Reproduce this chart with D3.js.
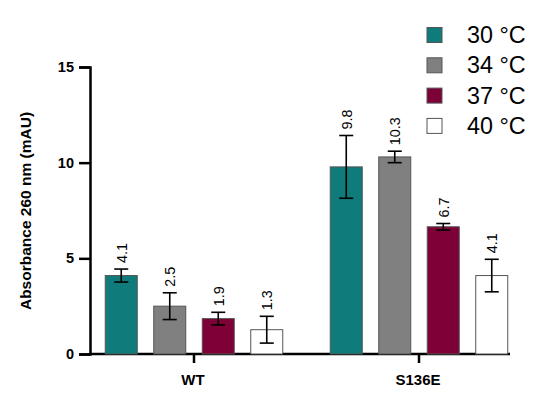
<!DOCTYPE html>
<html>
<head>
<meta charset="utf-8">
<script src="https://cdn.jsdelivr.net/npm/d3@7"></script>
<style>
  body { margin: 0; background: #fff; }
  text { font-family: "Liberation Sans", Arial, sans-serif; }
</style>
</head>
<body>
<svg id="chart" width="550" height="398"></svg>
<script>
// data
const groups = ["WT", "S136E"];
const temps = ["30 °C", "34 °C", "37 °C", "40 °C"];
const colors = ["#0f7b7b", "#808080", "#7d0036", "#ffffff"];
const means = [
  [4.1, 2.5, 1.85, 1.27],
  [9.78, 10.3, 6.65, 4.1]
];
const errs = [
  [0.34, 0.7, 0.33, 0.7],
  [1.64, 0.3, 0.17, 0.85]
];
const labels = [
  ["4.1", "2.5", "1.9", "1.3"],
  ["9.8", "10.3", "6.7", "4.1"]
];
const yTicks = [0, 5, 10, 15];

const svg = d3.select("#chart");

let y = d3.scaleLinear().domain([0, 15]).range([354, 67]);
let x0 = d3.scalePoint().domain(groups).range([194, 419]);
let x1 = d3.scaleBand().domain(temps).range([-97, 97]).paddingInner(0.34).paddingOuter(0.17);

// axes
let yAxis = svg.append("g")
    .attr("transform", "translate(90,0)")
    .call(d3.axisLeft(y).tickValues(yTicks).tickSize(11).tickPadding(5));
yAxis.select(".domain").attr("stroke-width", 2.5).attr("stroke", "#000");
yAxis.selectAll(".tick line").attr("stroke-width", 2.5);
yAxis.selectAll(".tick text").attr("font-size", 14.5).attr("font-weight", "bold").attr("fill", "#000");

svg.append("line")
    .attr("x1", 89).attr("x2", 510)
    .attr("y1", y(0)).attr("y2", y(0))
    .attr("stroke", "#000").attr("stroke-width", 2.5);

groups.forEach((g, gi) => {
  let cx = x0(g);
  svg.append("line")
      .attr("x1", cx).attr("x2", cx)
      .attr("y1", y(0)).attr("y2", y(0) + 9)
      .attr("stroke", "#000").attr("stroke-width", 2.5);
  svg.append("text")
      .attr("x", cx - 1).attr("y", 384.5)
      .attr("text-anchor", "middle")
      .attr("font-size", 15).attr("font-weight", "bold")
      .text(g);

  temps.forEach((t, ti) => {
    let bx = cx + x1(t);
    let bw = x1.bandwidth();
    let v = means[gi][ti];
    let e = errs[gi][ti];
    svg.append("rect")
        .attr("x", bx).attr("y", y(v))
        .attr("width", bw).attr("height", y(0) - y(v))
        .attr("fill", colors[ti])
        .attr("stroke", "#555").attr("stroke-width", 1);
    let mx = bx + bw / 2;
    let err = svg.append("g").attr("stroke", "#000").attr("stroke-width", 1.6);
    err.append("line").attr("x1", mx).attr("x2", mx).attr("y1", y(v + e)).attr("y2", y(v - e));
    err.append("line").attr("x1", mx - 7).attr("x2", mx + 7).attr("y1", y(v + e)).attr("y2", y(v + e));
    err.append("line").attr("x1", mx - 7).attr("x2", mx + 7).attr("y1", y(v - e)).attr("y2", y(v - e));
    svg.append("text")
        .attr("transform", "translate(" + (mx + 5.5) + "," + (y(v + e) - 6) + ") rotate(-90)")
        .attr("font-size", 14.4)
        .text(labels[gi][ti]);
  });
});

// y title
svg.append("text")
    .attr("transform", "translate(31,211) rotate(-90)")
    .attr("text-anchor", "middle")
    .attr("font-size", 15.5).attr("font-weight", "bold")
    .text("Absorbance 260 nm (mAU)");

// legend
let legend = svg.append("g");
temps.forEach((t, i) => {
  let cy = 35 + i * 30.3;
  legend.append("rect")
      .attr("x", 427).attr("y", cy - 7.5)
      .attr("width", 15).attr("height", 15)
      .attr("fill", colors[i])
      .attr("stroke", "#555").attr("stroke-width", 1);
  legend.append("text")
      .attr("x", 467).attr("y", cy + 8)
      .attr("font-size", 23.3)
      .text(t);
});
</script>
</body>
</html>
